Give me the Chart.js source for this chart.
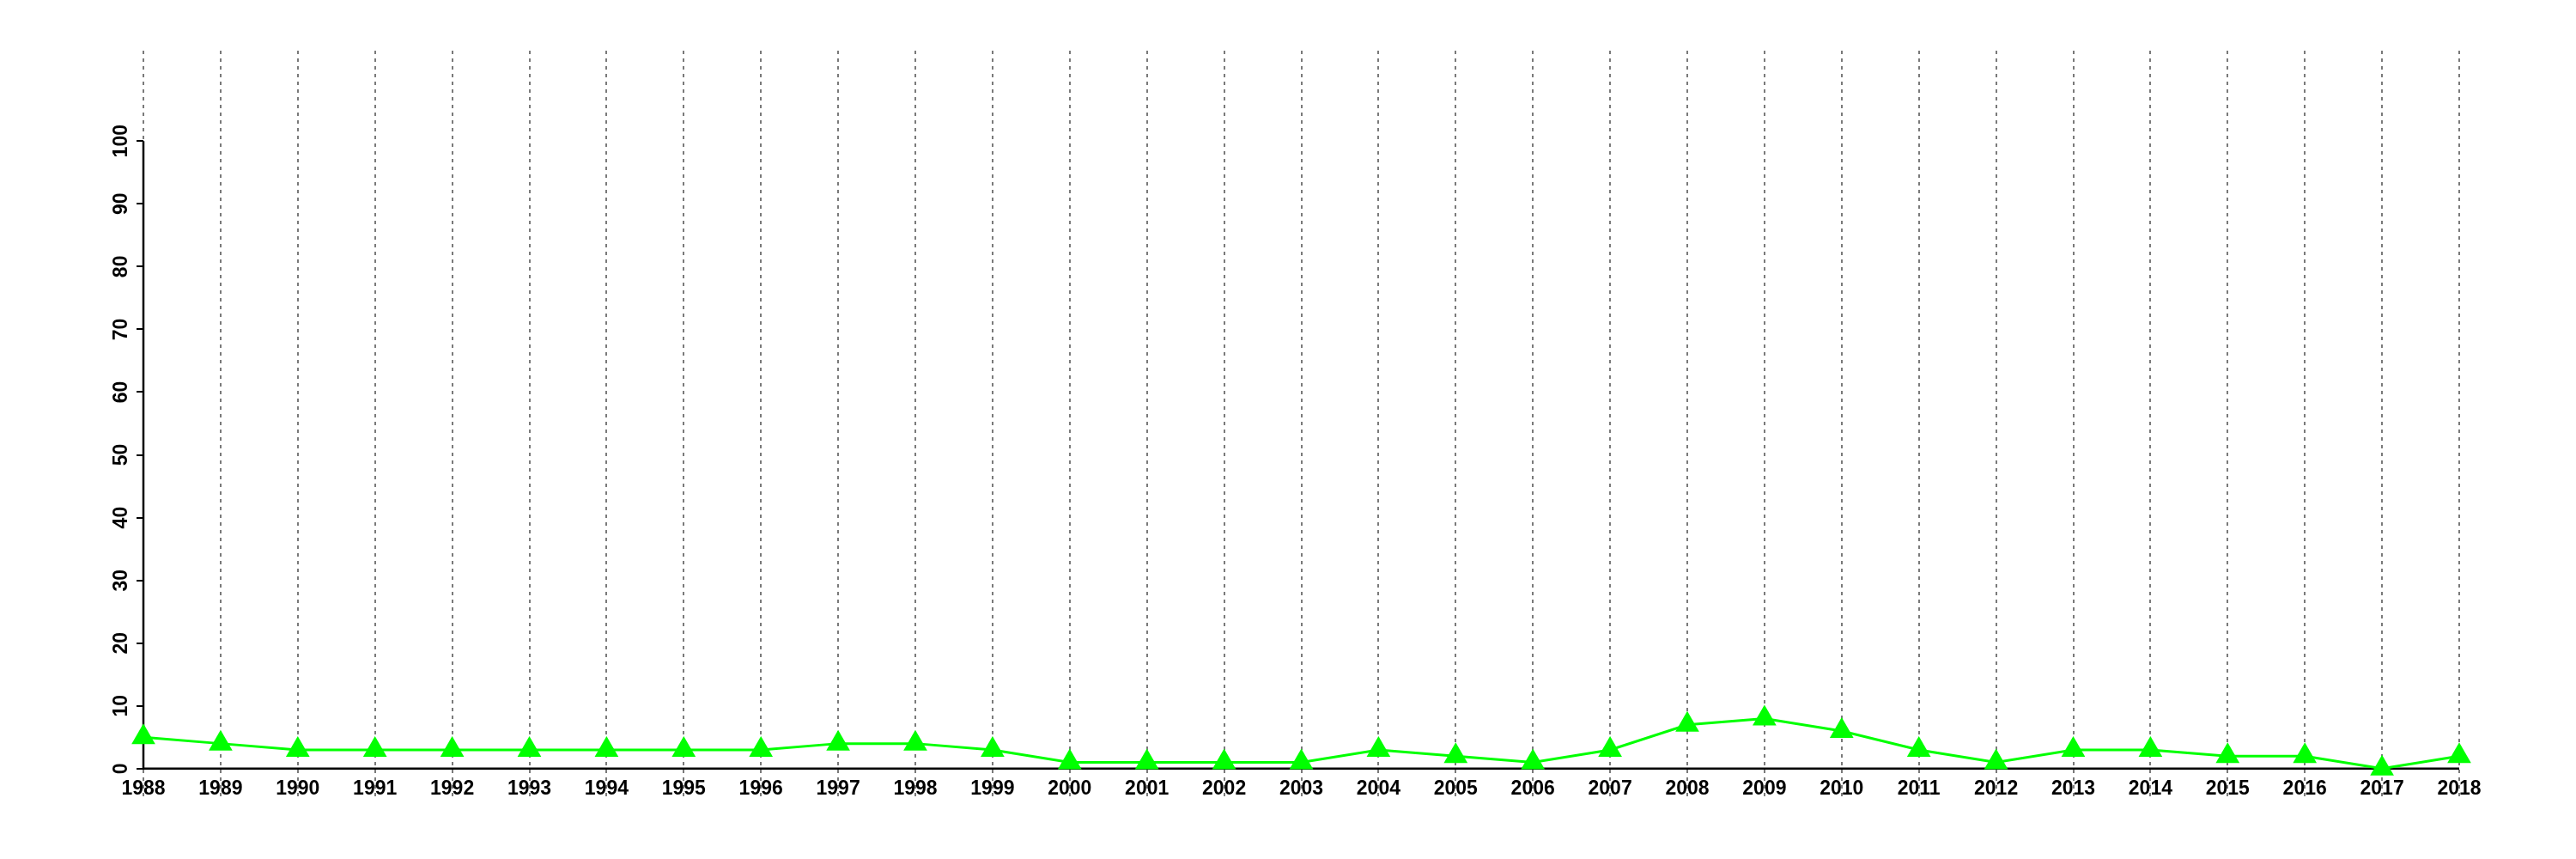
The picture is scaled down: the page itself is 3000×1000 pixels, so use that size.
<!DOCTYPE html>
<html>
<head>
<meta charset="utf-8">
<script src="https://cdn.jsdelivr.net/npm/chart.js@4.4.0/dist/chart.umd.min.js"></script>
<style>
  html, body { margin: 0; padding: 0; background: #fff; }
</style>
</head>
<body>
<canvas id="myChart" width="3000" height="1000"></canvas>
<script>
// data
var years = ['1988', '1989', '1990', '1991', '1992', '1993', '1994', '1995', '1996', '1997',
    '1998', '1999', '2000', '2001', '2002', '2003', '2004', '2005', '2006', '2007',
    '2008', '2009', '2010', '2011', '2012', '2013', '2014', '2015', '2016', '2017', '2018'];
var counts = [5, 4, 3, 3, 3, 3, 3, 3, 3, 4,
    4, 3, 1, 1, 1, 1, 3, 2, 1, 3,
    7, 8, 6, 3, 1, 3, 3, 2, 2, 0, 2];
var yTicks = [0, 10, 20, 30, 40, 50, 60, 70, 80, 90, 100];

var tickFont = { family: '"Liberation Sans", Arial, sans-serif', size: 23, weight: 'bold' };

// axis lines drawn like R does: y only from 0 to 100, x along y = 0
var axisLines = {
    id: 'axisLines',
    beforeDatasetsDraw: function(chart) {
        var ctx = chart.ctx;
        var y = chart.scales.y;
        var area = chart.chartArea;
        var y0 = y.getPixelForValue(0);
        ctx.save();
        ctx.strokeStyle = '#000';
        ctx.lineWidth = 2.5;
        ctx.setLineDash([]);
        ctx.beginPath();
        ctx.moveTo(area.left, y0);
        ctx.lineTo(area.left, y.getPixelForValue(100));
        ctx.moveTo(area.left, y0);
        ctx.lineTo(area.right, y0);
        ctx.stroke();
        ctx.restore();
    }
};

var ctx = document.getElementById('myChart').getContext('2d');
var myChart = new Chart(ctx, {
    type: 'line',
    data: {
        labels: years,
        datasets: [{
            data: counts,
            borderColor: '#00ff00',
            backgroundColor: '#00ff00',
            borderWidth: 3,
            pointStyle: 'triangle',
            pointRadius: 16,
            pointBorderWidth: 0,
            pointBackgroundColor: '#00ff00',
            tension: 0,
            clip: false
        }]
    },
    options: {
        responsive: false,
        animation: false,
        layout: { padding: { left: 0, right: 136, top: 59, bottom: 73 } },
        plugins: { legend: { display: false }, tooltip: { enabled: false } },
        scales: {
            x: {
                type: 'category',
                offset: false,
                position: { y: 0 },
                grid: {
                    color: '#7a7a7a',
                    lineWidth: 2,
                    drawTicks: false
                },
                border: { display: false, dash: [4, 5] },
                ticks: {
                    color: '#000',
                    font: tickFont,
                    padding: 10,
                    maxRotation: 0,
                    minRotation: 0,
                    autoSkip: false
                }
            },
            y: {
                min: -4.4,
                max: 114.4,
                afterBuildTicks: function(scale) {
                    scale.ticks = yTicks.map(function(v) { return { value: v }; });
                },
                afterFit: function(scale) {
                    scale.width = 167;
                },
                grid: {
                    drawOnChartArea: false,
                    drawTicks: true,
                    tickLength: 8,
                    color: '#000',
                    lineWidth: 2
                },
                border: { display: false },
                ticks: {
                    color: '#000',
                    font: tickFont,
                    minRotation: 90,
                    maxRotation: 90,
                    crossAlign: 'center',
                    padding: -2
                }
            }
        }
    },
    plugins: [axisLines]
});
</script>
</body>
</html>
